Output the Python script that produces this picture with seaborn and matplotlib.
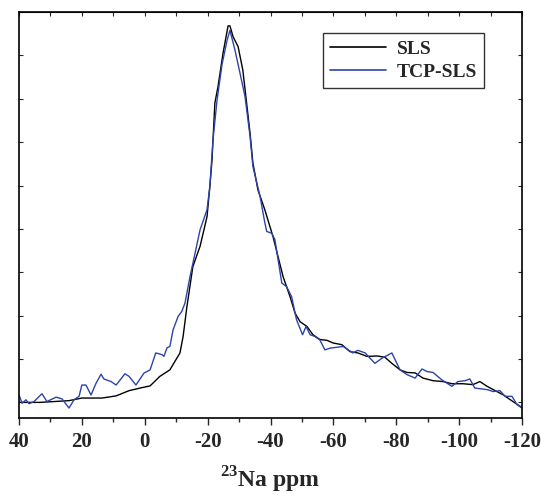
import matplotlib
matplotlib.use("Agg")
import matplotlib.pyplot as plt
import seaborn as sns
import pandas as pd
import numpy as np

# ---- data ----
sls_ppm = [40.0, 33.3, 24.1, 20.0, 13.6, 9.1, 5.0, 0.9, -1.7, -4.8, -8.0, -11.2, -12.2, -13.4,
           -15.3, -17.6, -19.8, -20.7, -21.4, -22.3, -23.3, -24.9, -26.5, -27.1, -28.1, -29.7,
           -31.2, -32.4, -33.5, -34.4, -36.0, -38.2, -40.8, -42.4, -44.0, -46.2, -47.8, -49.4,
           -51.6, -53.5, -55.7, -58.0, -59.9, -62.7, -65.3, -67.8, -70.7, -73.9, -76.4, -78.6,
           -81.2, -83.4, -86.0, -88.5, -91.7, -94.9, -97.7, -101.2, -104.4, -106.6, -108.9,
           -112.0, -113.9, -117.1, -120.0]
sls_int = [0.0, 0.0, 0.04, 0.1, 0.1, 0.15, 0.27, 0.34, 0.38, 0.6, 0.75, 1.14, 1.52, 2.2,
           3.13, 3.6, 4.28, 4.97, 5.59, 6.9, 7.28, 8.05, 8.68, 8.68, 8.43, 8.2,
           7.66, 6.9, 6.2, 5.52, 4.9, 4.44, 3.82, 3.36, 2.9, 2.44, 2.06, 1.86,
           1.75, 1.56, 1.45, 1.43, 1.37, 1.33, 1.17, 1.14, 1.06, 1.07, 1.04, 0.9,
           0.75, 0.69, 0.68, 0.56, 0.5, 0.48, 0.43, 0.43, 0.41, 0.48, 0.37,
           0.25, 0.18, 0.02, -0.12]

tcp_ppm = [40.0, 39.0, 37.8, 36.8, 35.2, 32.7, 31.1, 28.2, 26.3, 24.1, 22.5, 20.9, 20.0, 18.7,
           17.1, 15.5, 13.9, 13.0, 10.7, 9.1, 6.3, 5.0, 2.8, 0.2, -0.7, -1.7, -3.5, -5.5, -6.1,
           -7.1, -8.0, -9.0, -10.6, -11.8, -12.8, -14.4, -16.0, -17.6, -19.8, -20.7, -21.7,
           -23.0, -24.6, -26.2, -27.1, -28.7, -30.3, -31.9, -33.5, -34.4, -36.7, -38.2, -38.8,
           -40.4, -41.4, -43.6, -45.1, -46.7, -48.3, -50.2, -51.3, -52.6, -54.1, -55.7, -57.3,
           -58.9, -63.1, -66.2, -67.8, -70.1, -73.2, -75.5, -78.6, -81.2, -83.4, -86.0, -88.2,
           -89.8, -91.7, -94.5, -97.7, -99.6, -101.9, -103.4, -105.0, -107.3, -109.2, -110.8,
           -113.0, -114.6, -116.8, -118.4, -120.0]
tcp_int = [0.17, -0.02, 0.06, -0.03, 0.02, 0.2, 0.02, 0.12, 0.08, -0.13, 0.06, 0.14, 0.4, 0.4,
           0.17, 0.44, 0.65, 0.54, 0.48, 0.4, 0.66, 0.6, 0.4, 0.68, 0.71, 0.75, 1.14, 1.1, 1.06,
           1.26, 1.29, 1.67, 1.98, 2.1, 2.29, 2.9, 3.44, 3.98, 4.44, 4.97, 6.05,
           6.97, 7.8, 8.35, 8.58, 8.12, 7.59, 7.05, 6.13, 5.44, 4.74, 4.14, 3.94,
           3.9, 3.75, 2.75, 2.67, 2.44, 1.9, 1.56, 1.75, 1.56, 1.52, 1.44, 1.21,
           1.25, 1.29, 1.14, 1.2, 1.14, 0.9, 1.02, 1.14, 0.75, 0.64, 0.56, 0.77,
           0.71, 0.69, 0.52, 0.37, 0.48, 0.5, 0.54, 0.33, 0.31, 0.29, 0.25,
           0.27, 0.14, 0.14, -0.05, -0.13]

series_names = ["SLS", "TCP-SLS"]
x_ticks = [40, 20, 0, -20, -40, -60, -80, -100, -120]
x_tick_labels = ["40", "20", "0", "-20", "-40", "-60", "-80", "-100", "-120"]
y_ticks = list(range(0, 10))

df = pd.concat([
    pd.DataFrame({"ppm": sls_ppm, "intensity": sls_int, "sample": series_names[0]}),
    pd.DataFrame({"ppm": tcp_ppm, "intensity": tcp_int, "sample": series_names[1]}),
])

sns.set_style("ticks")
plt.rcParams["font.family"] = ["Liberation Serif", "DejaVu Serif"]
plt.rcParams["mathtext.fontset"] = "custom"
plt.rcParams["mathtext.bf"] = "Liberation Serif:bold"
plt.rcParams["mathtext.rm"] = "Liberation Serif:bold"
plt.rcParams["axes.unicode_minus"] = False

fig = plt.figure(figsize=(5.41, 4.96), dpi=100)
ax = fig.add_axes([19/541, 1 - 418/496, 503/541, 406/496])

sns.lineplot(data=df, x="ppm", y="intensity", hue="sample", estimator=None, sort=False,
             palette={"SLS": "#000000", "TCP-SLS": "#2c44a8"}, linewidth=1.0, ax=ax)

ax.set_xlim(40, -120)
ax.set_ylim(-0.36, 9.0)
ax.set_xticks(x_ticks)
ax.set_xticklabels(x_tick_labels, fontsize=15, fontweight="bold")
ax.set_xticks(np.arange(30, -120, -20), minor=True)
ax.set_yticks(y_ticks)
ax.set_yticklabels([])
ax.tick_params(axis="x", which="major", direction="out", length=5, width=1, bottom=True, top=False, pad=5)
ax.tick_params(axis="x", which="minor", direction="out", length=3, width=1, bottom=True, top=False)
ax.tick_params(axis="y", which="major", direction="in", length=3, width=0.8, left=True, right=True)

# inward ticks on top edge
sec = ax.secondary_xaxis("top")
sec.set_xticks(list(range(40, -121, -10)))
sec.set_xticklabels([])
sec.tick_params(direction="in", length=3, width=0.8)

for s in ax.spines.values():
    s.set_linewidth(1.2)
    s.set_color("black")

ax.set_xlabel(r"$^{\mathbf{23}}$Na ppm", fontsize=17, fontweight="bold", labelpad=9)
ax.set_ylabel("")

leg = ax.legend(loc="upper right", bbox_to_anchor=(0.924, 0.948), frameon=True, fancybox=False,
                edgecolor="black", fontsize=14, handlelength=2.9, handletextpad=0.55,
                borderpad=0.35, labelspacing=0.3, borderaxespad=0)
leg.get_frame().set_linewidth(1.0)
for t in leg.get_texts():
    t.set_fontweight("bold")
for l in leg.get_lines():
    l.set_linewidth(1.2)

fig.savefig("out.png", dpi=100)
